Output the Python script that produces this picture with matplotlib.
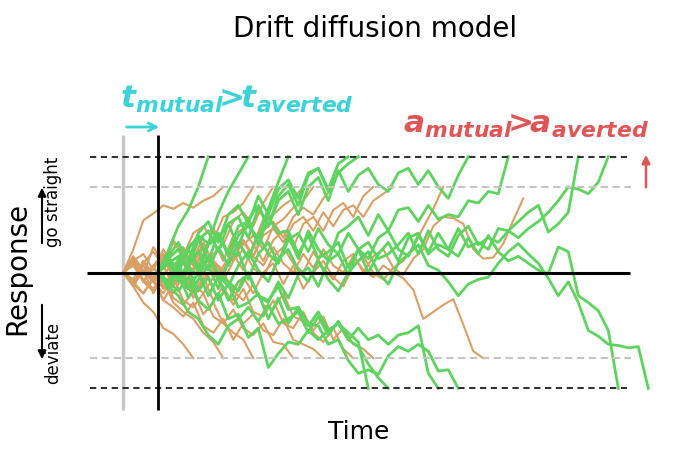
import numpy as np
import matplotlib.pyplot as plt

plt.rcParams['mathtext.fontset'] = 'custom'
plt.rcParams['mathtext.bf'] = 'DejaVu Sans:italic:bold'

# decision bounds (response units) and non-decision times (steps)
a_mutual = 1.0
a_averted = 0.74
t0_mutual = 3.5
t0_averted = 0.0
t_left, t_right = -3.3, 50.8

# evidence traces, in hundredths of the mutual bound, one value per time step
mutual = [
    [0, 19, 40, 54, 74, 100],
    [0, 12, 4, 20, 32, 25, 51, 70, 85, 100],
    [0, -12, 8, 20, 4, 26, 34, 14, 32, 40, 30, 55, 78, 100],
    [0, 14, 26, 10, 34, 44, 26, 50, 58, 42, 66, 50, 72, 80, 64, 86, 90, 72, 94, 100],
    [0, -10, 12, 20, 0, 24, 30, 42, 22, 46, 58, 40, 66, 76, 58, 84, 90, 70, 86, 94, 100],
    [0, 12, 20, 4, 28, 36, 18, 42, 48, 30, 56, 40, 62, 70, 50, 74, 82, 62, 88, 70,
     84, 90, 76, 70, 86, 90, 76, 88, 74, 64, 84, 100],
    [0, -14, 0, -22, -6, 6, -14, 10, 18, -6, 16, 26, 8, 32, 12, 36, 20, 10, 34, 40,
     48, 32, 50, 36, 54, 56, 44, 58, 46, 50, 48, 62, 60, 70, 68, 100],
    [0, 14, 0, 22, 30, 10, 34, 16, 40, 44, 24, 48, 34, 36, 16, 32, 12, 18, 26, 4,
     20, 0, 16, 26, 10, 30, 34, 16, 24, 20, 38, 22, 26, 20, 38, 36, 44, 52, 58, 35,
     42, 52, 100],
    [0, -10, 8, -14, 0, -20, -4, -24, -8, -2, -20, -26, -8, -22, -2, 4, -12, 10, 16, -2,
     20, 26, 12, 16, 24, 34, 16, 36, 20, 14, 32, 40, 24, 30, 26, 36, 30, 38, 44, 52,
     62, 74, 72, 68, 78, 100],
    [0, -8, -16, -4, -24, -32, -18, -40, -36, -56, -48, -82, -70, -60, -62, -50, -58,
     -50, -44, -52, -60, -100],
    [0, 8, -8, 4, -16, -4, -24, -10, -30, -26, -18, -40, -22, -44, -30, -46, -34, -50,
     -44, -58, -64, -79, -91, -100],
    [0, -12, -20, -34, -40, -54, -62, -46, -40, -30, -42, -28, -44, -40, -34, -52, -38,
     -54, -42, -58, -48, -58, -54, -62, -54, -52, -46, -87, -100],
    [0, 8, 14, 4, -2, 12, 0, -8, -16, 0, -20, -24, -12, -32, -30, -44, -46, -62, -58,
     -76, -87, -84, -88, -72, -64, -68, -62, -68, -85, -84, -100],
    [0, 10, -6, 8, 18, 2, 22, 6, 26, 12, 32, 16, 8, 28, 34, 18, 38, 24, 16, 34, 20,
     12, 30, 36, 20, 14, 32, 18, 34, 20, 14, 30, 16, 32, 18, 10, 14, 8, 2, -1, 22, 18,
     -20, -26, -33, -50, -100],
    [0, 10, -6, -14, 0, 14, -2, -12, 6, 18, 2, -8, 12, 20, 2, -8, 10, -6, -16, 0, 10,
     18, 0, -10, 8, 16, 24, 6, 2, -8, -20, -10, -6, -4, 8, 18, 25, 16, 8, -5, -20, -8,
     -26, -50, -55, -62, -63, -65, -64, -100],
]

averted = [
    [0, 20, 45, 51, 58, 55, 60, 56, 62, 66, 74],
    [0, -10, 8, 18, 6, 26, 14, 34, 40, 28, 48, 52, 60, 74],
    [0, 12, -2, 22, 8, 28, 16, 10, 32, 38, 24, 44, 52, 40, 60, 74],
    [0, -8, 10, -2, -14, 4, 16, 0, 22, 28, 10, 32, 38, 24, 46, 50, 58, 64, 74],
    [0, 14, 2, -8, 12, -4, 18, 6, 26, 8, 0, 22, 28, 14, 36, 44, 30, 48, 56, 50, 64, 74],
    [0, -12, 2, -18, -2, 8, -8, 14, 0, -12, 6, 16, 2, 24, 10, 28, 36, 22, 42, 48, 36,
     54, 60, 48, 66, 74],
    [0, 8, -8, 6, 16, 2, 22, 6, -2, 16, 24, 10, 28, 14, 32, 38, 26, 42, 48, 36, 52, 40,
     54, 58, 48, 62, 68, 74],
    [0, 10, -8, 6, -12, -18, -2, -22, -6, 2, -16, -24, -4, -18, 0, 8, -10, 6, -14, 0,
     10, -4, -12, 6, 14, 0, -6, 4, 10, 22, 39, 55, 74],
    [0, -8, 10, -6, 14, 0, -12, 4, 16, 2, -8, 10, 20, 4, -4, 14, 22, 8, 0, 18, 4, -6,
     10, 16, 0, 14, 20, 4, -2, 12, 20, 40, 48, 47, 42, 20, 12, 13, 25, 45, 64],
    [0, -12, -26, -34, -48, -53, -62, -74],
    [0, -10, 6, -8, -18, -4, -24, -30, -18, -38, -44, -52, -58, -74],
    [0, 8, -6, -14, -2, -22, -28, -16, -36, -26, -44, -32, -48, -54, -44, -60, -62, -74],
    [0, -8, -18, -4, -24, -30, -38, -26, -46, -52, -40, -58, -44, -36, -50, -54, -40,
     -58, -62, -66, -74],
    [0, 12, 0, -8, 6, -12, 0, -18, -4, -24, -12, -28, -14, -34, -38, -24, -44, -48,
     -34, -52, -60, -48, -66, -74],
    [0, -6, 10, -2, -12, -2, 8, -10, -18, -4, 0, -16, -24, -10, -28, -32, -18, -38, -42,
     -50, -38, -58, -48, -62, -66, -74],
    [0, 10, 16, 2, 20, 6, -2, 14, 22, 10, 2, 18, 26, 14, 6, 22, 8, 0, 16, 4, 20, 6, 0,
     14, 2, -4, 6, 0, -5, -15, -40, -34, -28, -23, -45, -68, -74],
    [0, 6, -8, -16, -6, -26, -34, -40, -52, -60, -74],
    [0, -10, -18, -6, -24, -10, -2, -16, 2, 10, -2, 18, 24, 32, 20, 40, 46, 56, 62, 74],
]

green = '#5fd35f'
orange = '#d9a066'
cyan = '#3bd3d8'
red = '#e05656'

fig = plt.figure(figsize=(6.74, 4.54), dpi=100)
ax = fig.add_axes([0, 0, 1, 1])
ax.set_xlim(-12.33, 55.07)
ax.set_ylim(-1.567, 2.353)
ax.axis('off')

for vals in averted:
    ax.plot(t0_averted + np.arange(len(vals)), np.array(vals) / 100,
            color=orange, lw=1.5, zorder=2)
for vals in mutual:
    ax.plot(t0_mutual + np.arange(len(vals)), np.array(vals) / 100,
            color=green, lw=2, zorder=3)

ax.hlines([a_mutual, -a_mutual], t_left, t_right, colors='#333333',
          linestyles=(0, (3, 2.2)), lw=1.5, zorder=4)
ax.hlines([a_averted, -a_averted], t_left, t_right, colors='#c4c4c4',
          linestyles=(0, (3.5, 2.2)), lw=1.5, zorder=4)
ax.hlines(0, -3.6, 50.7, color='black', lw=2.2, zorder=5)
ax.vlines(t0_averted, -1.19, 1.19, color='#c8c8c8', lw=2.5, zorder=1)
ax.vlines(t0_mutual, -1.19, 1.19, color='black', lw=2, zorder=5)

H = 454


def fx(px):
    return px / 674


def fy(py):
    return 1 - py / H


fig.text(fx(375), fy(37), 'Drift diffusion model', ha='center', va='baseline', fontsize=20)
fig.text(fx(17), fy(268), 'Response', rotation=90, ha='center', va='center', fontsize=20)
fig.text(fx(359), fy(439), 'Time', ha='center', va='baseline', fontsize=18)
fig.text(fx(53), fy(202), 'go straight', rotation=90, ha='center', va='center', fontsize=12)
fig.text(fx(53), fy(353), 'deviate', rotation=90, ha='center', va='center', fontsize=12)

fig.text(fx(120), fy(108), r'$\mathbf{t_{mutual}}\!\!\mathbf{>}\!\!\mathbf{t_{averted}}$',
         color=cyan, fontsize=22.5, va='baseline')
fig.text(fx(403), fy(133), r'$\mathbf{a_{mutual}}\!\!\mathbf{>}\!\!\mathbf{a_{averted}}$',
         color=red, fontsize=22.5, va='baseline')

arrow = dict(xycoords='figure pixels', textcoords='figure pixels')
ax.annotate('', xy=(42, H - 185), xytext=(42, H - 246),
            arrowprops=dict(arrowstyle='-|>', color='black', lw=1.5, mutation_scale=12), **arrow)
ax.annotate('', xy=(42, H - 362), xytext=(42, H - 302),
            arrowprops=dict(arrowstyle='-|>', color='black', lw=1.5, mutation_scale=12), **arrow)
ax.annotate('', xy=(162, H - 127), xytext=(124, H - 127),
            arrowprops=dict(arrowstyle='->', color=cyan, lw=2, mutation_scale=14), **arrow)
ax.annotate('', xy=(646, H - 152), xytext=(646, H - 190),
            arrowprops=dict(arrowstyle='-|>', color=red, lw=1.8, mutation_scale=12), **arrow)

fig.savefig('out.png', dpi=100)
